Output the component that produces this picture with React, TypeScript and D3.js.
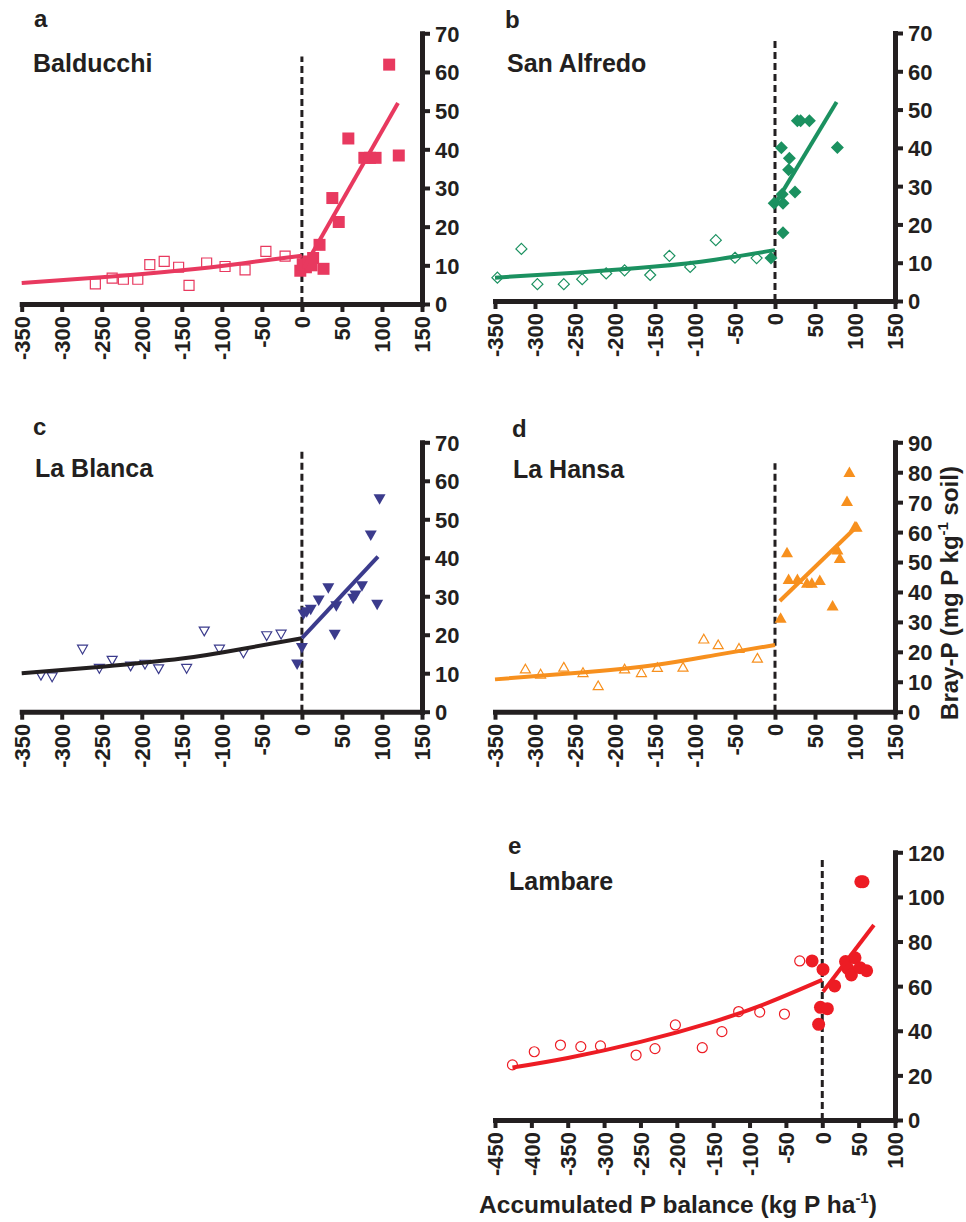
import { useEffect, useRef } from 'react';
import * as d3 from 'd3';

type Pt = [number, number];

// ---- values (x = accumulated P balance, y = Bray-P) ----

// a  Balducchi
const balducchiNeg: Pt[] = [[-258, 5.2], [-237, 6.7], [-223, 6.4], [-205, 6.4], [-190, 10.2], [-172, 11.0], [-154, 9.5], [-141, 4.8], [-119, 10.6], [-96, 9.7], [-71, 8.8], [-45, 13.6], [-21, 12.4]];
const balducchiPos: Pt[] = [[-2, 8.6], [1, 10.3], [5, 9.5], [8, 11], [12, 10], [14, 11.9], [22, 15.3], [27, 9.1], [38, 27.4], [46, 21.2], [58, 42.8], [78, 37.8], [85, 37.8], [92, 37.8], [109, 61.9], [121, 38.4]];
const balducchiCurve: Pt[] = [[-350, 5.4], [-250, 6.9], [-150, 8.7], [-75, 10.5], [0, 12.5]];
const balducchiLine: Pt[] = [[2, 9.2], [120, 52]];

// b  San Alfredo
const sanAlfredoNeg: Pt[] = [[-347, 6.1], [-317, 13.6], [-297, 4.4], [-264, 4.4], [-241, 5.7], [-211, 7.2], [-188, 8.0], [-156, 6.8], [-132, 11.8], [-106, 8.9], [-74, 15.9], [-50, 11.3], [-23, 11.2]];
const sanAlfredoPos: Pt[] = [[-5, 11.2], [-1, 25.5], [8, 40], [10, 25.5], [10, 17.8], [9, 27.9], [17, 34.3], [18, 37.3], [25, 28.5], [28, 47.1], [32, 47.1], [43, 47.1], [78, 40.1]];
const sanAlfredoCurve: Pt[] = [[-350, 6.1], [-250, 7.4], [-150, 9.0], [-75, 10.8], [0, 13.3]];
const sanAlfredoLine: Pt[] = [[0, 25.3], [77, 52]];

// c  La Blanca
const laBlancaNeg: Pt[] = [[-326, 9.5], [-312, 9.1], [-274, 16.3], [-253, 11.3], [-237, 13.4], [-214, 11.9], [-196, 12.4], [-179, 11.2], [-144, 11.3], [-122, 21.0], [-103, 16.3], [-73, 15.3], [-44, 19.8], [-26, 20.2]];
const laBlancaPos: Pt[] = [[-6, 12.4], [0, 16.7], [2, 25.4], [6, 26], [11, 26.6], [21, 29], [33, 32.2], [41, 20.1], [43, 27.5], [64, 29.5], [67, 30.3], [75, 32.7], [86, 45.9], [94, 27.9], [97, 55.3]];
const laBlancaCurve: Pt[] = [[-350, 10], [-250, 11.7], [-150, 13.8], [-75, 16.3], [0, 19.1]];
const laBlancaLine: Pt[] = [[0, 19.1], [95, 40.3]];

// d  La Hansa
const laHansaNeg: Pt[] = [[-312, 14.2], [-293, 12.5], [-264, 14.8], [-240, 13.0], [-221, 8.6], [-188, 14.2], [-167, 13.0], [-147, 14.7], [-115, 14.8], [-89, 24.2], [-71, 22.3], [-45, 21.1], [-22, 17.8]];
const laHansaPos: Pt[] = [[7, 31.2], [15, 53.1], [17, 44.2], [28, 44.2], [40, 42.9], [46, 42.9], [56, 43.8], [72, 35.3], [78, 54], [81, 51.2], [90, 70.2], [93, 79.9], [100, 61.8], [102, 61.6]];
const laHansaCurve: Pt[] = [[-350, 10.8], [-250, 12.9], [-150, 15.6], [-75, 18.9], [0, 22.3]];
const laHansaLine: Pt[] = [[6, 37], [100, 61.3]];

// e  Lambare
const lambareNeg: Pt[] = [[-426, 24.7], [-396, 30.6], [-360, 33.6], [-332, 32.9], [-305, 33.2], [-256, 29.1], [-230, 32.0], [-202, 42.6], [-165, 32.4], [-138, 39.6], [-115, 48.6], [-86, 48.4], [-52, 47.5], [-31, 71.3]];
const lambarePos: Pt[] = [[-14, 71.3], [-5, 42.9], [-2.5, 50.5], [1, 67.5], [7, 49.9], [17, 60.1], [32, 71], [35, 68], [40, 65], [45, 72.7], [52, 68.3], [61, 66.9], [53, 106.8], [56, 106.8]];
const lambareCurve: Pt[] = [[-426, 23.5], [-350, 27.8], [-250, 35], [-150, 44], [-75, 52.5], [0, 62.8]];
const lambareLine: Pt[] = [[1, 57.5], [71, 87.4]];

// tick labels
const xTicksShort = [-350, -300, -250, -200, -150, -100, -50, 0, 50, 100, 150];
const xTicksLong = [-450, -400, -350, -300, -250, -200, -150, -100, -50, 0, 50, 100];
const yTicks70 = [0, 10, 20, 30, 40, 50, 60, 70];
const yTicks90 = [0, 10, 20, 30, 40, 50, 60, 70, 80, 90];
const yTicks120 = [0, 20, 40, 60, 80, 100, 120];

const INK = '#231f20';
const FONT = '"Liberation Sans", Arial, Helvetica, sans-serif';

const panels = [
  { letter: 'a', name: 'Balducchi', color: '#e8395f', curveColor: '#e8395f', shape: 'square',
    neg: balducchiNeg, pos: balducchiPos, curve: balducchiCurve, line: balducchiLine,
    xTicks: xTicksShort, yTicks: yTicks70, x0: 21.7, x1: 422, yB: 304, yT: 33.3, dashTop: 64,
    letterAt: [34, 27], nameAt: [33, 72] },
  { letter: 'b', name: 'San Alfredo', color: '#1b9160', curveColor: '#1b9160', shape: 'diamond',
    neg: sanAlfredoNeg, pos: sanAlfredoPos, curve: sanAlfredoCurve, line: sanAlfredoLine,
    xTicks: xTicksShort, yTicks: yTicks70, x0: 495, x1: 895, yB: 301, yT: 33, dashTop: 68.5,
    letterAt: [505, 28], nameAt: [507, 72] },
  { letter: 'c', name: 'La Blanca', color: '#3b3b8c', curveColor: INK, shape: 'triDown',
    neg: laBlancaNeg, pos: laBlancaPos, curve: laBlancaCurve, line: laBlancaLine,
    xTicks: xTicksShort, yTicks: yTicks70, x0: 21.7, x1: 422, yB: 711.7, yT: 442.3, dashTop: 68,
    letterAt: [33, 435], nameAt: [35, 477] },
  { letter: 'd', name: 'La Hansa', color: '#f7901e', curveColor: '#f7901e', shape: 'triUp',
    neg: laHansaNeg, pos: laHansaPos, curve: laHansaCurve, line: laHansaLine,
    xTicks: xTicksShort, yTicks: yTicks90, x0: 495, x1: 895, yB: 711.7, yT: 442.3, dashTop: 83,
    letterAt: [512, 437], nameAt: [513, 478] },
  { letter: 'e', name: 'Lambare', color: '#ed1c24', curveColor: '#ed1c24', shape: 'circle',
    neg: lambareNeg, pos: lambarePos, curve: lambareCurve, line: lambareLine,
    xTicks: xTicksLong, yTicks: yTicks120, x0: 495, x1: 895, yB: 1120, yT: 852.3, dashTop: 116.5,
    letterAt: [508, 854], nameAt: [509, 890] },
];

// marker outline for each symbol, half-size r
const markerPath = (shape: string, r: number) => {
  switch (shape) {
    case 'square':
      return `M${-r},${-r}h${2 * r}v${2 * r}h${-2 * r}Z`;
    case 'diamond':
      return `M0,${-r}L${r},0L0,${r}L${-r},0Z`;
    case 'triUp':
      return `M0,${-r}L${r},${r * 0.75}L${-r},${r * 0.75}Z`;
    case 'triDown':
      return `M0,${r}L${r},${-r * 0.75}L${-r},${-r * 0.75}Z`;
    default:
      return d3.arc()({ innerRadius: 0, outerRadius: r, startAngle: 0, endAngle: 2 * Math.PI } as any) as string;
  }
};

const App = () => {
  const svgRef = useRef<SVGSVGElement>(null);

  useEffect(() => {
    const svg = d3.select(svgRef.current);
    svg.selectAll('*').remove();

    panels.forEach(p => {
      const x = d3.scaleLinear().domain([p.xTicks[0], p.xTicks[p.xTicks.length - 1]]).range([p.x0, p.x1]);
      const y = d3.scaleLinear().domain([0, p.yTicks[p.yTicks.length - 1]]).range([p.yB, p.yT]);
      const g = svg.append('g');

      // dashed zero-balance line
      g.append('line')
        .attr('x1', x(0)).attr('x2', x(0))
        .attr('y1', y(0)).attr('y2', y(p.dashTop))
        .attr('stroke', INK).attr('stroke-width', 3).attr('stroke-dasharray', '7,4');

      // open markers (negative balance)
      g.selectAll('.neg')
        .data(p.neg)
        .enter()
        .append('path')
        .attr('d', markerPath(p.shape, p.shape === 'diamond' ? 5.5 : 5))
        .attr('transform', d => `translate(${x(d[0])},${y(d[1])})`)
        .attr('fill', 'none')
        .attr('stroke', p.color)
        .attr('stroke-width', 1.2);

      // filled markers (positive balance)
      g.selectAll('.pos')
        .data(p.pos)
        .enter()
        .append('path')
        .attr('d', markerPath(p.shape, p.shape === 'circle' ? 6.5 : p.shape === 'diamond' ? 6.5 : 6))
        .attr('transform', d => `translate(${x(d[0])},${y(d[1])})`)
        .attr('fill', p.color);

      // fitted curves
      const lineGen = d3.line<Pt>().x(d => x(d[0])).y(d => y(d[1])).curve(d3.curveNatural);
      g.append('path').attr('d', lineGen(p.curve)).attr('fill', 'none')
        .attr('stroke', p.curveColor).attr('stroke-width', 4);
      g.append('path').attr('d', lineGen(p.line)).attr('fill', 'none')
        .attr('stroke', p.color).attr('stroke-width', 4);

      // x axis
      const xAxis = g.append('g')
        .attr('transform', `translate(0,${p.yB})`)
        .call(d3.axisBottom(x).tickValues(p.xTicks).tickSize(8).tickSizeOuter(0).tickFormat(d => String(d)));
      xAxis.attr('font-family', FONT).attr('font-size', 22).attr('font-weight', 'bold');
      xAxis.select('.domain').attr('stroke', INK).attr('stroke-width', 5).attr('stroke-linecap', 'square');
      xAxis.selectAll('.tick line').attr('stroke', INK).attr('stroke-width', 4);
      xAxis.selectAll('.tick text')
        .attr('transform', 'rotate(-90)')
        .attr('x', -12).attr('y', 0).attr('dy', '0.36em')
        .attr('text-anchor', 'end')
        .attr('fill', INK);

      // y axis on the right
      const yAxis = g.append('g')
        .attr('transform', `translate(${p.x1},0)`)
        .call(d3.axisRight(y).tickValues(p.yTicks).tickSize(8).tickPadding(5).tickSizeOuter(0));
      yAxis.attr('font-family', FONT).attr('font-size', 22).attr('font-weight', 'bold');
      yAxis.select('.domain').attr('stroke', INK).attr('stroke-width', 5).attr('stroke-linecap', 'square');
      yAxis.selectAll('.tick line').attr('stroke', INK).attr('stroke-width', 4);
      yAxis.selectAll('.tick text').attr('fill', INK).attr('dy', '0.36em');

      // panel letter and site name
      g.append('text').attr('x', p.letterAt[0]).attr('y', p.letterAt[1])
        .attr('font-family', FONT).attr('font-size', 24).attr('font-weight', 'bold').attr('fill', INK)
        .text(p.letter);
      g.append('text').attr('x', p.nameAt[0]).attr('y', p.nameAt[1])
        .attr('font-family', FONT).attr('font-size', 25).attr('font-weight', 'bold').attr('fill', INK)
        .text(p.name);
    });

    // y axis title
    const yTitle = svg.append('text')
      .attr('transform', 'translate(958,593) rotate(-90)')
      .attr('text-anchor', 'middle')
      .attr('font-family', FONT).attr('font-size', 24).attr('font-weight', 'bold').attr('fill', INK);
    yTitle.append('tspan').text('Bray-P (mg P kg');
    yTitle.append('tspan').attr('font-size', 15).attr('dy', -10).text('-1');
    yTitle.append('tspan').attr('dy', 10).text(' soil)');

    // x axis title
    const xTitle = svg.append('text')
      .attr('x', 678).attr('y', 1213)
      .attr('text-anchor', 'middle')
      .attr('font-family', FONT).attr('font-size', 24.5).attr('font-weight', 'bold').attr('fill', INK);
    xTitle.append('tspan').text('Accumulated P balance (kg P ha');
    xTitle.append('tspan').attr('font-size', 15).attr('dy', -10).text('-1');
    xTitle.append('tspan').attr('dy', 10).text(')');
  }, []);

  return (
    <div className="App">
      <svg
        ref={svgRef}
        width={966}
        height={1222}
        style={{ position: 'absolute', left: 0, top: 0, background: '#fff' }}
      ></svg>
    </div>
  );
};

export default App;
